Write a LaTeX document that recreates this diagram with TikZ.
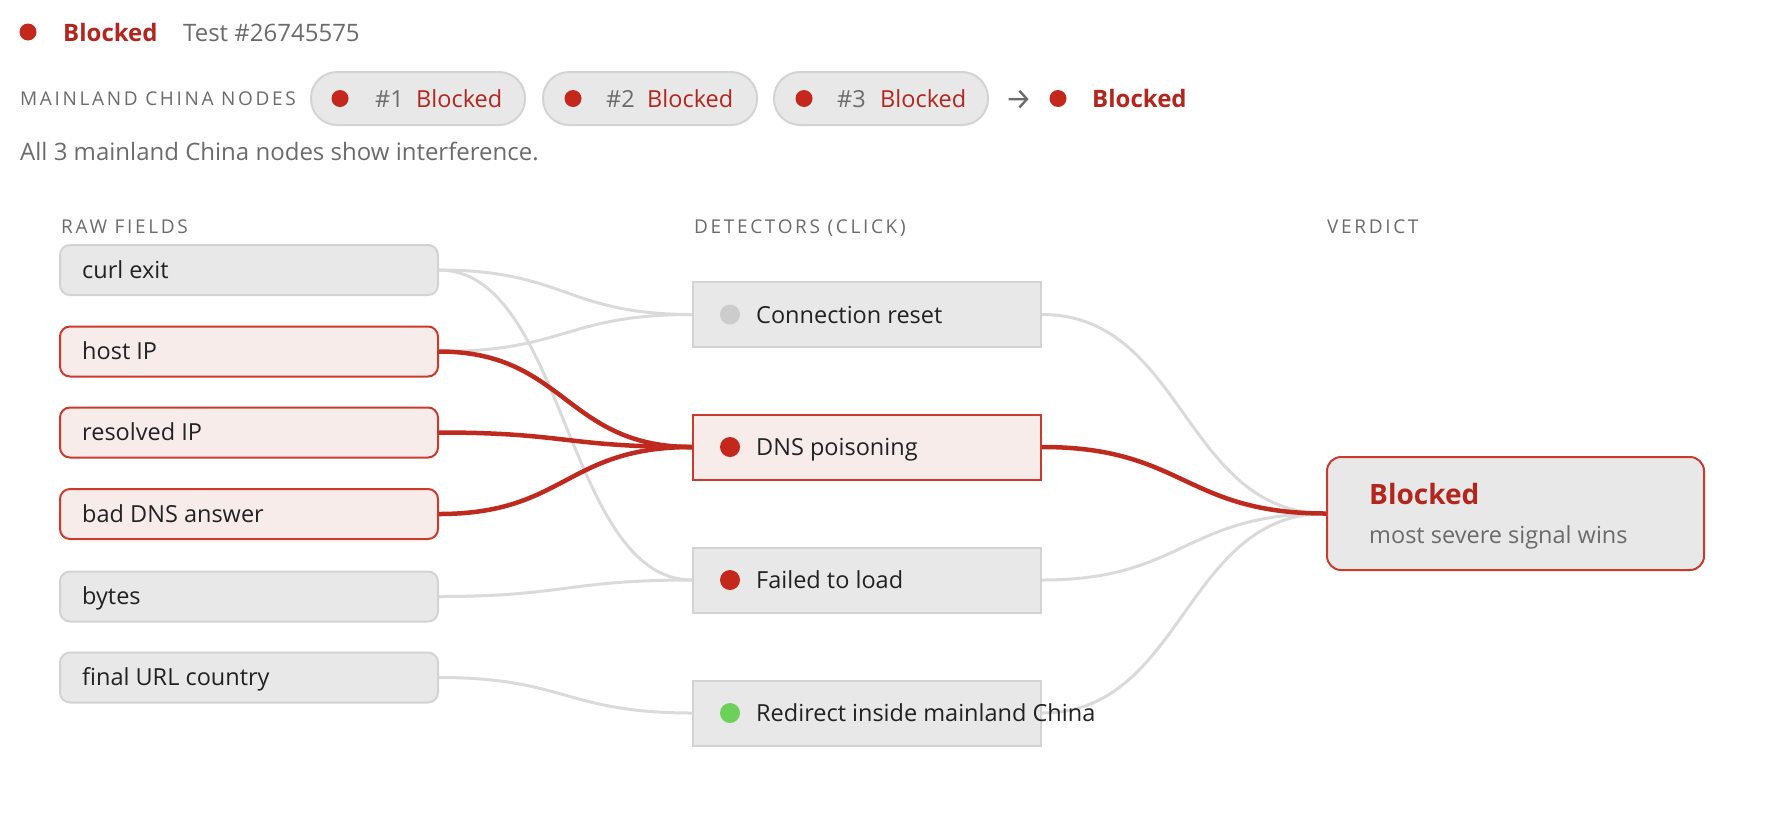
\documentclass[tikz,border=0pt]{standalone}
\usepackage{fontspec}
\setmainfont{Open Sans}
\newfontfamily\capsfont[LetterSpace=14]{Open Sans}
\newfontfamily\arrowfont{Fira Sans}
\usetikzlibrary{calc}
\newcommand\myfs[1]{\fontsize{#1}{#1}\selectfont}
\definecolor{hotred}{HTML}{C4281C}
\definecolor{hottext}{HTML}{B3261E}
\definecolor{greytext}{HTML}{6B6B6B}
\definecolor{ink}{HTML}{222222}
\definecolor{boxfill}{HTML}{E8E8E8}
\definecolor{boxline}{HTML}{D3D3D3}
\definecolor{hotfill}{HTML}{F8ECEB}
\definecolor{hotline}{HTML}{CC3A2E}
\definecolor{lgray}{HTML}{DADADA}
\definecolor{lred}{HTML}{C0291D}
\definecolor{okgreen}{HTML}{6DD159}
\definecolor{offgray}{HTML}{CCCCCC}
\pgfdeclarelayer{edges}
\pgfsetlayers{edges,main}
\tikzset{
  txt/.style={anchor=base west, inner sep=0pt, font=\myfs{23.5}, text=ink},
  caps/.style={anchor=base west, inner sep=0pt, font=\capsfont\myfs{19}, text=greytext},
  sdot/.style={circle, fill=#1, draw=none, minimum size=17pt, inner sep=0pt},
  bdot/.style={circle, fill=#1, draw=none, minimum size=20pt, inner sep=0pt},
  pill/.style={draw=boxline, line width=2pt, fill=boxfill, rounded corners=26pt, minimum width=214pt, minimum height=53pt, inner sep=0pt},
  rawbox/.style={draw=boxline, line width=2pt, fill=boxfill, rounded corners=10pt, minimum width=378pt, minimum height=50pt, inner sep=0pt},
  rawhot/.style={rawbox, draw=hotline, fill=hotfill},
  detbox/.style={draw=boxline, line width=2pt, fill=boxfill, minimum width=348pt, minimum height=65pt, inner sep=0pt},
  dethot/.style={detbox, draw=hotline, fill=hotfill},
  verdbox/.style={draw=hotline, line width=2pt, fill=boxfill, rounded corners=14pt, minimum width=377pt, minimum height=113pt, inner sep=0pt},
  gline/.style={draw=lgray, line width=3pt},
  rline/.style={draw=lred, line width=4.5pt},
  sc/.style={to path={let \p1=(\tikztostart), \p2=(\tikztotarget) in
      .. controls ({(\x1+\x2)/2},\y1) and ({(\x1+\x2)/2},\y2) .. (\tikztotarget)}}
}
\begin{document}
\begin{tikzpicture}[x=1pt,y=-1pt]
\useasboundingbox (0,0) rectangle (1784,828);

% header
\node[sdot=hotred] (hdot) at (28,32) {};
\node[txt, font=\myfs{24}\bfseries, text=hottext] (hblk) at (63,41) {Blocked};
\node[txt, font=\myfs{24}, text=greytext] (htest) at (183,41) {Test \#26745575};

% mainland nodes row
\node[caps] (mcn) at (20,105) {MAINLAND CHINA NODES};
\node[pill] (p1) at (418,98.5) {};
\node[sdot=hotred] (p1d) at (340,98.5) {};
\node[txt, text=greytext] (p1n) at (375,107) {\#1};
\node[txt, text=hottext] (p1b) at (416,107) {Blocked};
\node[pill] (p2) at (650,98.5) {};
\node[sdot=hotred] (p2d) at (573,98.5) {};
\node[txt, text=greytext] (p2n) at (606,107) {\#2};
\node[txt, text=hottext] (p2b) at (647,107) {Blocked};
\node[pill] (p3) at (881,98.5) {};
\node[sdot=hotred] (p3d) at (804,98.5) {};
\node[txt, text=greytext] (p3n) at (837,107) {\#3};
\node[txt, text=hottext] (p3b) at (880,107) {Blocked};
\node[txt, font=\arrowfont\myfs{30}, text=greytext] (arr) at (1005,109) {→};
\node[sdot=hotred] (odot) at (1058,98.5) {};
\node[txt, font=\myfs{24}\bfseries, text=hottext] (oblk) at (1092,107) {Blocked};
\node[txt, font=\myfs{24}, text=greytext] (sub) at (20,160) {All 3 mainland China nodes show interference.};

% column labels
\node[caps] (colraw) at (61,233) {RAW FIELDS};
\node[caps] (coldet) at (694,233) {DETECTORS (CLICK)};
\node[caps] (colver) at (1327,233) {VERDICT};

% raw fields
\node[rawbox] (curl) at (249,270) {};
\node[txt] (curlt) at (82,278) {curl exit};
\node[rawhot] (host) at (249,351.5) {};
\node[txt] (hostt) at (82,359.5) {host IP};
\node[rawhot] (resv) at (249,432.5) {};
\node[txt] (resvt) at (82,440.5) {resolved IP};
\node[rawhot] (bdns) at (249,514) {};
\node[txt] (bdnst) at (82,522) {bad DNS answer};
\node[rawbox] (byts) at (249,596.5) {};
\node[txt] (bytst) at (82,604.5) {bytes};
\node[rawbox] (furl) at (249,677.5) {};
\node[txt] (furlt) at (82,685.5) {final URL country};

% detectors
\node[detbox] (reset) at (867,314.5) {};
\node[bdot=offgray] (resetd) at (730,314.5) {};
\node[txt] (resett) at (756,323) {Connection reset};
\node[dethot] (dnsp) at (867,447) {};
\node[bdot=hotred] (dnspd) at (730,447) {};
\node[txt] (dnspt) at (756,455.5) {DNS poisoning};
\node[detbox] (fail) at (867,580) {};
\node[bdot=hotred] (faild) at (730,580) {};
\node[txt] (failt) at (756,588.5) {Failed to load};
\node[detbox] (redir) at (867,713) {};
\node[bdot=okgreen] (redird) at (730,713) {};
\node[txt] (redirt) at (756,721.5) {Redirect inside mainland China};

% verdict
\node[verdbox] (verd) at (1515.5,513.5) {};
\node[txt, font=\myfs{28}\bfseries, text=hottext] (verdt) at (1369,504) {Blocked};
\node[txt, text=greytext] (verds) at (1369,543) {most severe signal wins};

\begin{pgfonlayer}{edges}
\draw[gline] (curl.east) to[sc] (reset.west);
\draw[gline] (curl.east) to[sc] (fail.west);
\draw[gline] (host.east) to[sc] (reset.west);
\draw[gline] (byts.east) to[sc] (fail.west);
\draw[gline] (furl.east) to[sc] (redir.west);
\draw[gline] (reset.east) to[sc] (verd.west);
\draw[gline] (fail.east) to[sc] (verd.west);
\draw[gline] (redir.east) to[sc] (verd.west);
\draw[rline] (host.east) to[sc] (dnsp.west);
\draw[rline] (resv.east) to[sc] (dnsp.west);
\draw[rline] (bdns.east) to[sc] (dnsp.west);
\draw[rline] (dnsp.east) to[sc] (verd.west);
\end{pgfonlayer}
\end{tikzpicture}
\end{document}
